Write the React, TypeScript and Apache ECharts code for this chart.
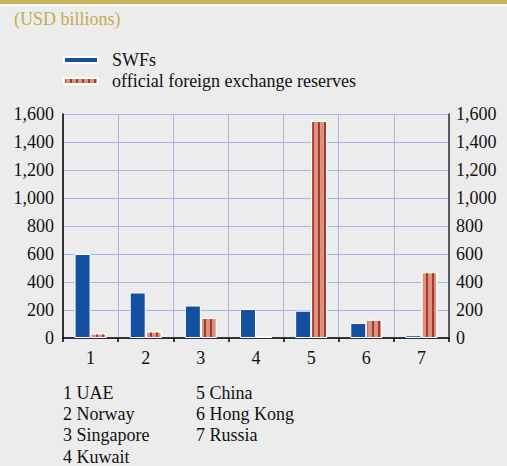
import React, { useEffect, useRef } from "react";
import * as echarts from "echarts";

const categories = ["1", "2", "3", "4", "5", "6", "7"];
const countries = ["1 UAE", "2 Norway", "3 Singapore", "4 Kuwait", "5 China", "6 Hong Kong", "7 Russia"];
const swfs = [600, 325, 232, 207, 195, 107, 20];
const reserves = [33, 47, 143, 12, 1550, 130, 470];
const yTicks = [0, 200, 400, 600, 800, 1000, 1200, 1400, 1600];

const FONT = "Liberation Serif";
const GRID = "#a9b4e2";
const BLUE = "#1450a0";
const SALMON = "#d9937e";
const STRIPE = "#a8372c";

export default function App() {
  const ref = useRef<HTMLDivElement>(null);
  useEffect(() => {
    if (!ref.current) return;
    const chart = echarts.init(ref.current, undefined, { renderer: "svg" });
    const fmt = (v: number) => v.toLocaleString("en-US");
    const yAxisBase = {
      type: "value",
      min: yTicks[0],
      max: yTicks[yTicks.length - 1],
      interval: 200,
      axisTick: { show: false },
      axisLabel: { fontFamily: FONT, fontSize: 18, color: "#111", formatter: fmt },
    };
    const notes = countries.map((c, i) => ({
      type: "text",
      left: i < 4 ? 63 : 196,
      top: 384 + (i % 4) * 21.2,
      style: { text: c, fontFamily: FONT, fontSize: 18, fill: "#111" },
    }));
    chart.setOption({
      animation: false,
      backgroundColor: "#ececec",
      grid: { left: 63, right: 58, top: 114, bottom: 128 },
      legend: {
        orient: "vertical",
        left: 58,
        top: 46,
        itemWidth: 34,
        itemHeight: 6,
        itemGap: 3,
        icon: "rect",
        textStyle: { fontFamily: FONT, fontSize: 18, color: "#111", padding: [0, 0, 0, 9] },
        data: ["SWFs", "official foreign exchange reserves"],
      },
      xAxis: {
        type: "category",
        data: categories,
        axisLine: { lineStyle: { color: "#000", width: 1.5 } },
        axisTick: { show: true, length: 4, lineStyle: { color: "#000", width: 1.5 } },
        axisLabel: { fontFamily: FONT, fontSize: 18, color: "#111", margin: 11 },
        splitLine: { show: true, lineStyle: { color: GRID, width: 1 } },
      },
      yAxis: [
        {
          ...yAxisBase,
          position: "left",
          axisLine: { show: true, lineStyle: { color: "#000", width: 1.5 } },
          axisLabel: { ...yAxisBase.axisLabel, margin: 9 },
          splitLine: { show: true, lineStyle: { color: GRID, width: 1 } },
        },
        {
          ...yAxisBase,
          position: "right",
          axisLine: { show: true, lineStyle: { color: "#333", width: 1.5 } },
          axisLabel: { ...yAxisBase.axisLabel, margin: 7 },
          splitLine: { show: false },
        },
      ],
      series: [
        {
          name: "SWFs",
          type: "bar",
          data: swfs,
          barWidth: 16,
          barGap: "0%",
          itemStyle: { color: BLUE, borderColor: "#fff", borderWidth: 1 },
        },
        {
          name: "official foreign exchange reserves",
          type: "bar",
          data: reserves,
          barWidth: 16,
          itemStyle: {
            color: SALMON,
            borderColor: "#fff",
            borderWidth: 1,
            decal: {
              symbol: "rect",
              symbolSize: 1,
              color: STRIPE,
              dashArrayX: [1.5, 3.5],
              dashArrayY: [4, 0],
              rotation: 0,
            },
          },
        },
      ],
      graphic: [
        { type: "rect", left: 0, top: 0, shape: { width: 507, height: 4 }, style: { fill: "#c8b35b" } },
        { type: "rect", left: 0, top: 4, shape: { width: 507, height: 2 }, style: { fill: "#ffffff" } },
        {
          type: "text",
          left: 14,
          top: 10,
          style: { text: "(USD billions)", fontFamily: FONT, fontSize: 18, fill: "#c4ad4f" },
        },
        ...notes,
      ],
    });
    return () => chart.dispose();
  }, []);
  return (
    <div
      ref={ref}
      style={{ position: "fixed", left: 0, top: 0, width: 507, height: 466 }}
    />
  );
}
